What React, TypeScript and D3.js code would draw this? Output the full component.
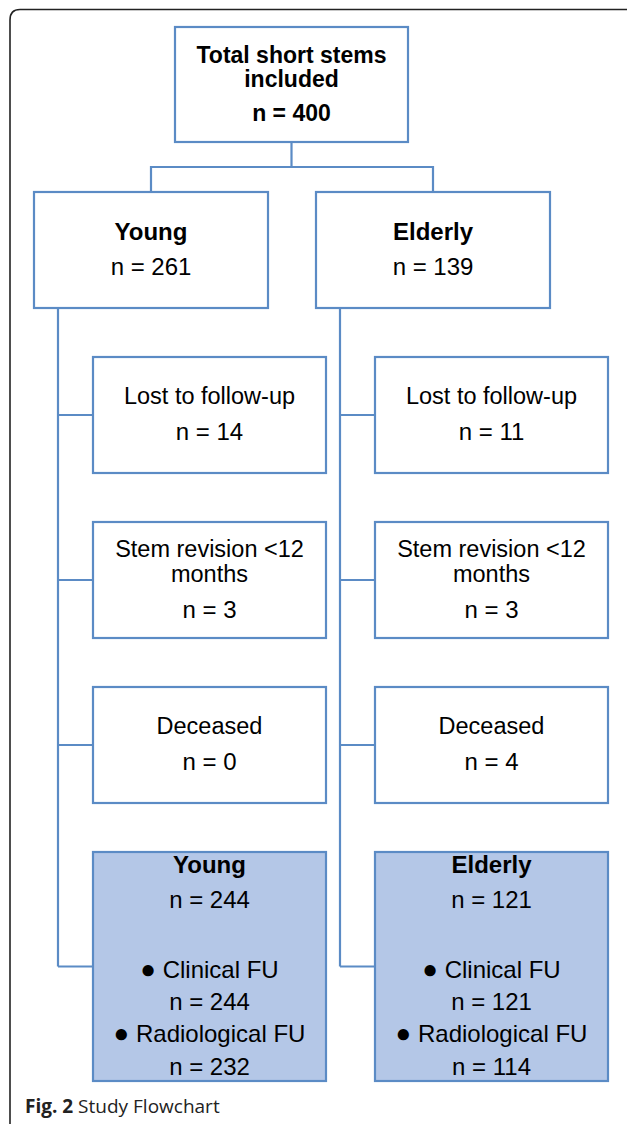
import React from 'react';
import * as d3 from 'd3';

// flowchart data
const groups = ['Young', 'Elderly'];
const totalCount = 400;
const groupTotals = [261, 139];
const stageLabels = [['Lost to follow-up'], ['Stem revision <12', 'months'], ['Deceased']];
const lostCounts = [14, 11];
const revisionCounts = [3, 3];
const deceasedCounts = [0, 4];
const finalCounts = [244, 121];
const clinicalCounts = [244, 121];
const radiologicalCounts = [232, 114];

const stroke = '#5b8bc5';
const fillFinal = '#b4c7e7';
const font = '"Liberation Sans", Arial, sans-serif';

type Line = { text: React.ReactNode; bold?: boolean; dy: number; size?: number };

const BoxText = ({ cx, top, h, lines }: { cx: number; top: number; h: number; lines: Line[] }) => {
    const span = d3.sum(lines.slice(1), d => d.dy);
    let y = top + h / 2 - span / 2 + 7;
    return (
        <g>
            {lines.map((l, i) => {
                y += i === 0 ? 0 : l.dy;
                return (
                    <text key={i} x={cx} y={y} textAnchor='middle' fontFamily={font}
                        fontSize={l.size || 24} fontWeight={l.bold ? 'bold' : 'normal'} fill='#000'>
                        {l.text}
                    </text>
                );
            })}
        </g>
    );
};

const App = () => {
    const W = 627;
    const H = 1124;
    // column offsets (young / elderly)
    const col = d3.scaleLinear().domain([0, 1]).range([0, 282]);
    // stage rows
    const row = d3.scaleLinear().domain([0, 1]).range([357, 522]);
    const boxW = 233;
    const boxH = 116;

    const top = { x: 175, y: 27, w: 233, h: 115 };
    const grp = { x: 34, y: 192, w: 234, h: 116 };
    const child = { x: 93, w: boxW };
    const spineX = 58;
    const finalH = row(1) - row(0) + boxH - 52;
    const branchY = 167;

    const stageCounts = [lostCounts, revisionCounts, deceasedCounts];

    return (
        <svg width={W} height={H} style={{ position: 'absolute', left: 0, top: 0, display: 'block' }}>
            <rect width={W} height={H} fill='#fff' />
            {/* frame */}
            <path d={`M10,${H} L10,20 Q10,9.5 20,9.5 L${W},9.5`} fill='none' stroke='#222' strokeWidth={1.6} />

            {/* top box */}
            <rect x={top.x} y={top.y} width={top.w} height={top.h} fill='#fff' stroke={stroke} strokeWidth={2.2} />
            <BoxText cx={top.x + top.w / 2} top={top.y} h={top.h} lines={[
                { text: 'Total short stems', bold: true, dy: 0, size: 23 },
                { text: 'included', bold: true, dy: 24, size: 23 },
                { text: `n = ${totalCount}`, bold: true, dy: 34, size: 23 },
            ]} />

            {/* branch connector */}
            <path d={`M${top.x + top.w / 2},${top.y + top.h} V${branchY} M${grp.x + grp.w / 2},${grp.y} V${branchY} H${grp.x + col(1) + grp.w / 2} V${grp.y}`}
                fill='none' stroke={stroke} strokeWidth={2.2} />

            {groups.map((g, gi) => {
                const dx = col(gi);
                const sx = spineX + dx;
                const cx = child.x + dx + child.w / 2;
                const finalTop = row(3);
                const lastY = finalTop + finalH / 2;
                return (
                    <g key={g}>
                        {/* spine */}
                        <path d={`M${sx},${grp.y + grp.h} V${lastY}`} fill='none' stroke={stroke} strokeWidth={2.2} />
                        {[0, 1, 2].map(i => (
                            <path key={i} d={`M${sx},${row(i) + boxH / 2} H${child.x + dx}`} fill='none' stroke={stroke} strokeWidth={2.2} />
                        ))}
                        <path d={`M${sx},${lastY} H${child.x + dx}`} fill='none' stroke={stroke} strokeWidth={2.2} />

                        <rect x={grp.x + dx} y={grp.y} width={grp.w} height={grp.h} fill='#fff' stroke={stroke} strokeWidth={2.2} />
                        <BoxText cx={grp.x + dx + grp.w / 2} top={grp.y} h={grp.h} lines={[
                            { text: g, bold: true, dy: 0 },
                            { text: `n = ${groupTotals[gi]}`, dy: 35 },
                        ]} />

                        {stageLabels.map((lab, i) => (
                            <g key={i}>
                                <rect x={child.x + dx} y={row(i)} width={child.w} height={boxH} fill='#fff' stroke={stroke} strokeWidth={2.2} />
                                <BoxText cx={cx} top={row(i)} h={boxH} lines={[
                                    ...lab.map((t, k) => ({ text: t, dy: k === 0 ? 0 : 25, size: 23.5 })),
                                    { text: `n = ${stageCounts[i][gi]}`, dy: 36 },
                                ]} />
                            </g>
                        ))}

                        <rect x={child.x + dx} y={finalTop} width={child.w} height={finalH} fill={fillFinal} stroke={stroke} strokeWidth={2.2} />
                        <BoxText cx={cx} top={finalTop} h={finalH} lines={[
                            { text: g, bold: true, dy: 0 },
                            { text: `n = ${finalCounts[gi]}`, dy: 35 },
                            { text: <><tspan fontSize={26}>●</tspan> Clinical FU</>, dy: 70 },
                            { text: `n = ${clinicalCounts[gi]}`, dy: 32 },
                            { text: <><tspan fontSize={26}>●</tspan> Radiological FU</>, dy: 32 },
                            { text: `n = ${radiologicalCounts[gi]}`, dy: 33 },
                        ]} />
                    </g>
                );
            })}

            {/* caption */}
            <text x={25} y={1113} fontFamily='"Open Sans", sans-serif' fontSize={19} fill='#222'>
                <tspan fontWeight='bold'>Fig. 2</tspan> Study Flowchart
            </text>
        </svg>
    );
};

export default App;
